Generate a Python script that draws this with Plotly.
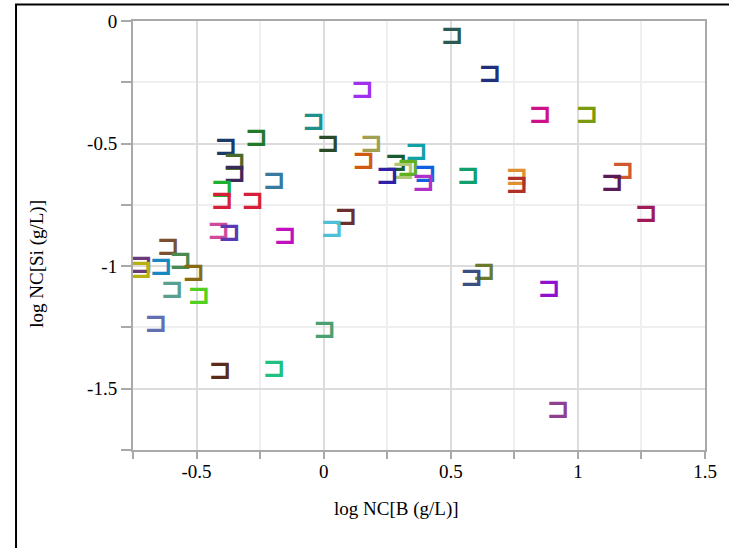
import plotly.graph_objects as go

# Data
x_vals = [0.506, 0.654, 0.153, 0.852, 1.036, -0.039, -0.264, -0.384, 0.018, 0.188,
          0.365, 0.158, 0.285, 0.314, 0.334, 0.400, 0.251, 0.393, 0.569, 0.760,
          0.760, 1.177, 1.135, 1.269, -0.350, -0.350, -0.194, -0.399, -0.399, -0.279,
          0.088, 0.033, -0.413, -0.370, -0.151, -0.611, -0.562, -0.717, -0.718, -0.639,
          -0.511, -0.596, -0.490, -0.660, 0.004, 0.632, 0.582, 0.887, -0.407, -0.194,
          0.923]
y_vals = [-0.067, -0.219, -0.285, -0.387, -0.387, -0.416, -0.482, -0.518, -0.505, -0.505,
          -0.540, -0.577, -0.584, -0.616, -0.604, -0.629, -0.635, -0.665, -0.635, -0.642,
          -0.672, -0.614, -0.663, -0.792, -0.579, -0.628, -0.657, -0.688, -0.737, -0.737,
          -0.802, -0.854, -0.861, -0.869, -0.882, -0.927, -0.984, -1.000, -1.020, -1.006,
          -1.030, -1.101, -1.124, -1.241, -1.263, -1.029, -1.052, -1.096, -1.430, -1.423,
          -1.589]
colors = ["#2a5a52", "#20307a", "#a030f0", "#d0108a", "#7a9a10", "#20908a", "#207a2a", "#1a3a6a",
          "#2a4a2a", "#a0a050", "#10a0a8", "#d05a10", "#1a5a30", "#b0c878", "#60b020", "#1060e0",
          "#3020a8", "#b030c8", "#10a070", "#e09030", "#b03028", "#d05a30", "#5a1a5a", "#a01a5a",
          "#4a6a2a", "#3a2a5a", "#3a7aa0", "#20b030", "#d81f3a", "#d81f3a", "#6a3030", "#50c0d8",
          "#d04a9a", "#5a3ab0", "#c010c0", "#7a5030", "#4a8a50", "#6a3a7a", "#b8b010", "#1a88c0",
          "#8a6a10", "#5aa090", "#50d020", "#6070b0", "#4aa070", "#6a7a2a", "#3a5080", "#9010d0",
          "#5a2a1a", "#20c080", "#904090"]

x_tickvals = [-0.5, 0, 0.5, 1, 1.5]
x_ticktext = ["-0.5", "0", "0.5", "1", "1.5"]
y_tickvals = [0, -0.5, -1, -1.5]
y_ticktext = ["0", "-0.5", "-1", "-1.5"]

x_title = "log NC[B (g/L)]"
y_title = "log NC[Si (g/L)]"

SERIF = "Liberation Serif"

fig = go.Figure()
fig.add_trace(go.Scatter(
    x=x_vals, y=y_vals, mode="text",
    text=["⊐"] * len(x_vals),
    textposition="middle center",
    textfont=dict(family="DejaVu Sans", size=28, color=colors, weight="bold"),
    showlegend=False, hoverinfo="x+y",
))

axis_common = dict(
    showline=True, linecolor="#a9a9a9", linewidth=2, mirror=True,
    ticks="outside", tickcolor="#a9a9a9", tickwidth=2,
    showgrid=True, gridcolor="#dcdcdc", gridwidth=2,
    zeroline=False,
    tickfont=dict(family=SERIF, size=19, color="#000000"),
    tickmode="array",
)

fig.update_xaxes(
    range=[-0.75, 1.5], tickvals=x_tickvals, ticktext=x_ticktext, ticklen=7,
    ticklabelstandoff=-4,
    minor=dict(dtick=0.25, tick0=0, ticks="outside", ticklen=7, tickcolor="#a9a9a9",
               tickwidth=2, showgrid=True, gridcolor="#efefef", gridwidth=2),
    **axis_common,
)
fig.update_yaxes(
    range=[-1.75, 0], tickvals=y_tickvals, ticktext=y_ticktext, ticklen=10,
    minor=dict(dtick=0.25, tick0=0, ticks="outside", ticklen=10, tickcolor="#a9a9a9",
               tickwidth=2, showgrid=True, gridcolor="#efefef", gridwidth=2),
    **axis_common,
)

fig.add_annotation(text=x_title, xref="paper", yref="paper", x=0.46, y=-0.1375,
                   showarrow=False, xanchor="center", yanchor="middle",
                   font=dict(family=SERIF, size=19, color="#000000"))
fig.add_annotation(text=y_title, xref="paper", yref="paper", x=-0.168, y=0.434,
                   showarrow=False, xanchor="center", yanchor="middle", textangle=-90,
                   font=dict(family=SERIF, size=19, color="#000000"))

# outer frame
fig.add_shape(type="rect", xref="paper", yref="paper", x0=-0.2045, y0=1.0385, x1=1.2, y1=-0.4,
              line=dict(color="#000000", width=2), fillcolor="rgba(0,0,0,0)", layer="above")

fig.update_layout(
    width=729, height=548,
    margin=dict(l=133, r=24, t=21, b=98),
    paper_bgcolor="#ffffff", plot_bgcolor="#ffffff",
)

fig.write_html("out.html")
